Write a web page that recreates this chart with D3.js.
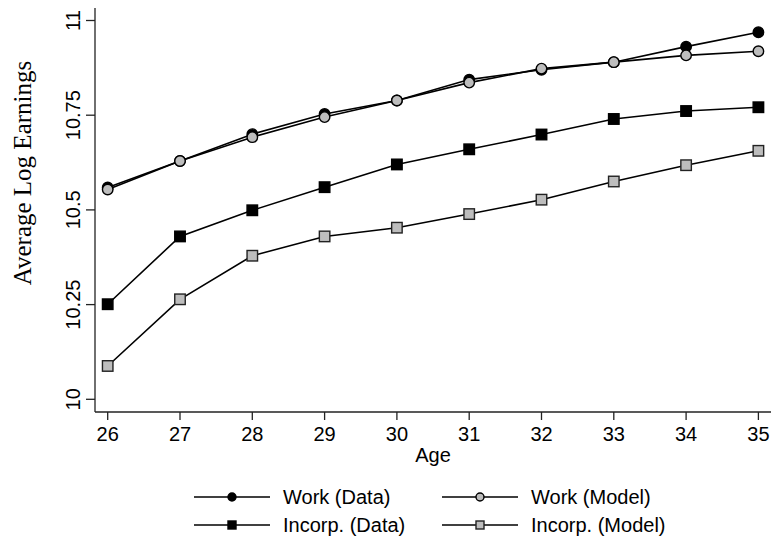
<!DOCTYPE html>
<html><head><meta charset="utf-8">
<script src="https://cdn.jsdelivr.net/npm/d3@7"></script>
<style>body{margin:0;background:#fff}svg{display:block}</style>
</head><body>
<svg id="c" width="772" height="542"></svg>
<script>
const ages = [26,27,28,29,30,31,32,33,34,35];
const workData    = [10.559,10.629,10.700,10.753,10.789,10.844,10.870,10.890,10.931,10.969];
const workModel   = [10.554,10.629,10.692,10.745,10.789,10.836,10.873,10.890,10.908,10.919];
const incorpData  = [10.251,10.430,10.499,10.560,10.620,10.660,10.699,10.740,10.761,10.771];
const incorpModel = [10.088,10.264,10.379,10.430,10.453,10.489,10.527,10.575,10.618,10.656];
const yTicks = [10,10.25,10.5,10.75,11];
const yTickLabels = ["10","10.25","10.5","10.75","11"];
const seriesNames = ["Work (Data)","Work (Model)","Incorp. (Data)","Incorp. (Model)"];

const series = [
  {name:seriesNames[0], values:workData,    shape:"circle", fill:"#000"},
  {name:seriesNames[1], values:workModel,   shape:"circle", fill:"#bdbdbd"},
  {name:seriesNames[2], values:incorpData,  shape:"square", fill:"#000"},
  {name:seriesNames[3], values:incorpModel, shape:"square", fill:"#bdbdbd"}
];

const svg = d3.select("#c");
const axL = 95, axR = 771, axT = 8, axB = 412;
const x = d3.scaleLinear().domain([26,35]).range([107.7,758.4]);
const y = d3.scaleLinear().domain([10,11]).range([399.3,20.5]);
const sans = "'Liberation Sans', Arial, Helvetica, sans-serif";
const axisColor = "#222";
const fs = 20;

// axes lines
svg.append("line").attr("x1",axL).attr("x2",axL).attr("y1",axT).attr("y2",axB)
  .attr("stroke",axisColor).attr("stroke-width",1.3);
svg.append("line").attr("x1",axL).attr("x2",axR).attr("y1",axB).attr("y2",axB)
  .attr("stroke",axisColor).attr("stroke-width",1.3);

// y ticks
const yt = svg.append("g");
yTicks.forEach((v,i)=>{
  yt.append("line").attr("x1",axL-9).attr("x2",axL).attr("y1",y(v)).attr("y2",y(v))
    .attr("stroke",axisColor).attr("stroke-width",1.3);
  yt.append("text").attr("transform",`translate(79.5,${y(v)}) rotate(-90)`)
    .attr("text-anchor","middle").attr("font-family",sans).attr("font-size",fs)
    .attr("fill","#000").text(yTickLabels[i]);
});
// x ticks
const xt = svg.append("g");
ages.forEach(a=>{
  xt.append("line").attr("x1",x(a)).attr("x2",x(a)).attr("y1",axB).attr("y2",axB+8)
    .attr("stroke",axisColor).attr("stroke-width",1.3);
  xt.append("text").attr("x",x(a)).attr("y",441).attr("text-anchor","middle")
    .attr("font-family",sans).attr("font-size",fs).attr("fill","#000").text(a);
});
svg.append("text").attr("x",433).attr("y",462).attr("text-anchor","middle")
  .attr("font-family",sans).attr("font-size",fs).text("Age");

// y title
svg.append("text").attr("transform","translate(31,173) rotate(-90)")
  .attr("text-anchor","middle").attr("font-family","'Liberation Serif','Times New Roman',serif")
  .attr("font-size",25).text("Average Log Earnings");

// series
const line = d3.line().x((d,i)=>x(ages[i])).y(d=>y(d));
function marker(g, shape, fill, cx, cy, sz){
  if(shape==="circle"){
    g.append("circle").attr("cx",cx).attr("cy",cy).attr("r",sz/2)
      .attr("fill",fill).attr("stroke","#000").attr("stroke-width",1.4);
  } else {
    g.append("rect").attr("x",cx-sz/2).attr("y",cy-sz/2).attr("width",sz).attr("height",sz)
      .attr("fill",fill).attr("stroke", fill==="#000"?"#000":"#222").attr("stroke-width",1.4);
  }
}
series.forEach(s=>{
  const g = svg.append("g");
  g.append("path").datum(s.values).attr("d",line).attr("fill","none")
    .attr("stroke","#000").attr("stroke-width",1.6);
  s.values.forEach((v,i)=>marker(g,s.shape,s.fill,x(ages[i]),y(v),10.5));
});

// legend
const legPos = [[194,497],[442,497],[194,525],[442,525]];
series.forEach((s,i)=>{
  const [lx,ly] = legPos[i];
  const g = svg.append("g");
  g.append("line").attr("x1",lx).attr("x2",lx+76).attr("y1",ly).attr("y2",ly)
    .attr("stroke","#000").attr("stroke-width",1.6);
  marker(g,s.shape,s.fill,lx+38,ly,8);
  g.append("text").attr("x",lx+89).attr("y",ly+7).attr("font-family",sans)
    .attr("font-size",fs).text(s.name);
});
</script>
</body></html>
